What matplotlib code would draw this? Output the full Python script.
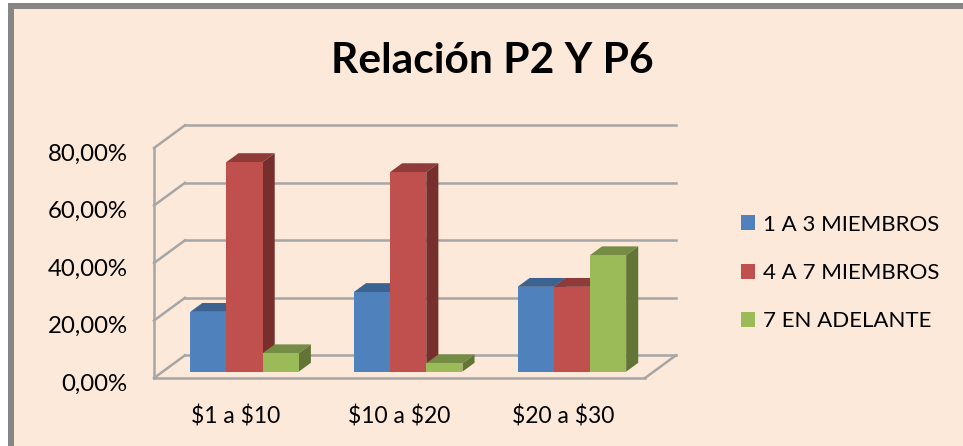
import matplotlib
matplotlib.use('Agg')
import matplotlib.pyplot as plt
from matplotlib.patches import Patch, Polygon, Rectangle
from matplotlib.transforms import Affine2D

categorias = [r'\$1 a \$10', r'\$10 a \$20', r'\$20 a \$30']
serie_1a3 = [20.8, 27.7, 29.5]
serie_4a7 = [72.9, 69.4, 29.5]
serie_7mas = [6.4, 2.9, 40.5]
nombres = ['1 A 3 MIEMBROS', '4 A 7 MIEMBROS', '7 EN ADELANTE']
ticks_y = [0, 20, 40, 60, 80]
etiquetas_y = ['0,00%', '20,00%', '40,00%', '60,00%', '80,00%']

W, H = 963, 446
plt.rcParams['font.family'] = ['Lato', 'DejaVu Sans']

# colores: frente, tapa, lado
colores = [('#4f81bd', '#3c6291', '#3c6291'),
           ('#c0504d', '#8f3b39', '#772f2d'),
           ('#9bbb59', '#748c43', '#627537')]
series = [serie_1a3, serie_4a7, serie_7mas]

fig = plt.figure(figsize=(W / 100, H / 100), dpi=100, facecolor='white')

# marco gris y fondo
fig.add_artist(Rectangle((8 / W, 0), (W - 8) / W, (H - 3) / H, transform=fig.transFigure,
                         facecolor='#868686', edgecolor='none', zorder=-2))
fig.add_artist(Rectangle((14 / W, 0), (W - 14) / W, (H - 9) / H, transform=fig.transFigure,
                         facecolor='#fde9d9', edgecolor='none', zorder=-1))

ax = fig.add_axes([154 / W, (H - 378) / H, 491 / W, 230 / H])
ax.patch.set_visible(False)
ax.set_xlim(-0.5, 2.5)
ax.set_ylim(0, 80)
for s in ax.spines.values():
    s.set_visible(False)

# profundidad de la caja 3D en unidades de datos
dx = 31 / (491 / 3)
dy = 22.7 * 80 / 230
gris = '#a6a6a6'
lw = 1.8

for t in ticks_y:
    ax.plot([-0.5 + dx, 2.5 + dx], [t + dy, t + dy], color=gris, lw=lw, clip_on=False, zorder=1)
    ax.plot([-0.5, -0.5 + dx], [t, t + dy], color=gris, lw=lw, clip_on=False, zorder=1)
ax.plot([-0.5, -0.5], [0, 80], color=gris, lw=lw, clip_on=False, zorder=1)
ax.plot([-0.5, 2.5], [0, 0], color=gris, lw=lw, clip_on=False, zorder=1)
ax.plot([2.5, 2.5 + dx], [0, dy], color=gris, lw=lw, clip_on=False, zorder=1)

# barras
ancho = 36.2 / (491 / 3)
f0 = 0.28
fb = 0.39
z = 2
for i in range(len(categorias)):
    for j, serie in enumerate(series):
        v = serie[i]
        x0 = i + f0 * dx + (j - 1.5) * ancho
        x1 = x0 + ancho
        y0 = f0 * dy
        y1 = y0 + v
        ox, oy = fb * dx, fb * dy
        frente, tapa, lado = colores[j]
        ax.add_patch(Polygon([(x0, y1), (x1, y1), (x1 + ox, y1 + oy), (x0 + ox, y1 + oy)],
                             facecolor=tapa, edgecolor='none', clip_on=False, zorder=z))
        ax.add_patch(Polygon([(x1, y0), (x1 + ox, y0 + oy), (x1 + ox, y1 + oy), (x1, y1)],
                             facecolor=lado, edgecolor='none', clip_on=False, zorder=z))
        ax.bar(x0, v, width=ancho, bottom=y0, align='edge', color=frente, clip_on=False, zorder=z + 1)
        z += 2

ax.set_xticks(range(len(categorias)))
ax.set_xticklabels(categorias, fontsize=16.5, color='black')
ax.set_yticks(ticks_y)
ax.set_yticklabels(etiquetas_y, fontsize=17.3, color='black')
ax.tick_params(axis='both', length=0)
ax.tick_params(axis='x', pad=20)
ax.tick_params(axis='y', pad=19)
for lab in ax.get_yticklabels():
    lab.set_transform(lab.get_transform() + Affine2D().translate(0, -4))

fig.text(492 / W, (H - 61) / H, 'Relación P2 Y P6', fontsize=30.6, fontweight='bold',
         ha='center', va='center', color='black')

manijas = [Patch(facecolor=c[0], edgecolor='none') for c in colores]
fig.legend(manijas, nombres, loc='center left', bbox_to_anchor=(741 / W, (H - 273) / H),
           frameon=False, fontsize=16, handlelength=0.65, handleheight=0.65,
           handletextpad=0.32, labelspacing=1.28, borderpad=0, borderaxespad=0)

fig.savefig('out.png', dpi=100, facecolor='white')
